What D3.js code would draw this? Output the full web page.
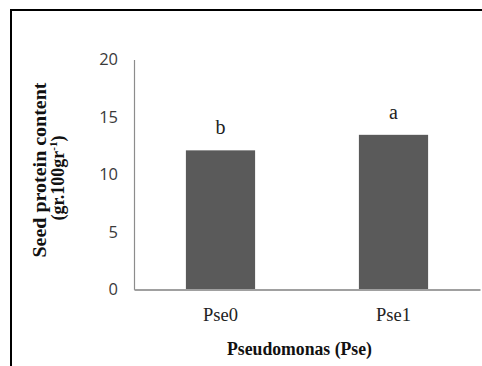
<!DOCTYPE html>
<html>
<head>
<meta charset="utf-8">
<script src="https://cdn.jsdelivr.net/npm/d3@7"></script>
<style>
  html, body { margin: 0; padding: 0; background: #fff; }
  svg { display: block; }
</style>
</head>
<body>
<script>
// Seed protein content by Pseudomonas treatment
const categories = ["Pse0", "Pse1"];
const proteinValues = [12.1, 13.45];
const letters = ["b", "a"];
const yTicks = [0, 5, 10, 15, 20];

const W = 482, H = 366;
const svg = d3.select("body").append("svg").attr("width", W).attr("height", H);

// outer frame (only top and left edges fall inside the view)
svg.append("rect")
  .attr("x", 11).attr("y", 10)
  .attr("width", 600).attr("height", 500)
  .attr("fill", "none").attr("stroke", "#000").attr("stroke-width", 2);

const x = d3.scaleBand().domain(categories).range([134, 480])
  .paddingInner(0.6).paddingOuter(0.3);
const y = d3.scaleLinear().domain([0, 20]).range([289.5, 59.5]);

const serif = "'Liberation Serif', 'Times New Roman', serif";

// y axis
const yAxis = svg.append("g").attr("transform", "translate(134,0)")
  .call(d3.axisLeft(y).tickValues(yTicks).tickSize(0).tickPadding(16).tickFormat(d3.format("d")));
yAxis.select(".domain").attr("stroke", "#8c8c8c").attr("stroke-width", 1.2);
yAxis.selectAll("text")
  .attr("font-family", "'Open Sans', 'Liberation Sans', sans-serif")
  .attr("font-size", 16.5).attr("fill", "#3a3a3a");

// bars
svg.append("g").selectAll("rect")
  .data(categories)
  .join("rect")
  .attr("x", d => x(d))
  .attr("width", x.bandwidth())
  .attr("y", (d, i) => y(proteinValues[i]))
  .attr("height", (d, i) => y(0) - y(proteinValues[i]))
  .attr("fill", "#5a5a5a");

// x axis baseline and category labels
const xAxis = svg.append("g").attr("transform", `translate(0,${y(0)})`)
  .call(d3.axisBottom(x).tickSize(0).tickPadding(18));
xAxis.select(".domain").attr("stroke", "#a0a0a0").attr("stroke-width", 2);
xAxis.selectAll("text")
  .attr("font-family", serif)
  .attr("font-size", 18.5).attr("fill", "#222");

// significance letters
svg.append("g").selectAll("text")
  .data(categories)
  .join("text")
  .attr("x", d => x(d) + x.bandwidth() / 2)
  .attr("y", (d, i) => y(proteinValues[i]) - 16)
  .attr("text-anchor", "middle")
  .attr("font-family", serif)
  .attr("font-size", 20).attr("fill", "#222")
  .text((d, i) => letters[i]);

// x axis title
svg.append("text")
  .attr("x", 299.5).attr("y", 355)
  .attr("text-anchor", "middle")
  .attr("font-family", serif)
  .attr("font-weight", "bold").attr("font-size", 18).attr("fill", "#111")
  .attr("textLength", 145).attr("lengthAdjust", "spacingAndGlyphs")
  .text("Pseudomonas (Pse)");

// y axis title (two lines)
svg.append("text")
  .attr("transform", "translate(46,170) rotate(-90)")
  .attr("text-anchor", "middle")
  .attr("font-family", serif)
  .attr("font-weight", "bold").attr("font-size", 18).attr("fill", "#111")
  .attr("textLength", 175).attr("lengthAdjust", "spacingAndGlyphs")
  .text("Seed protein content");

const t2 = svg.append("text")
  .attr("transform", "translate(64,178) rotate(-90)")
  .attr("text-anchor", "middle")
  .attr("font-family", serif)
  .attr("font-weight", "bold").attr("font-size", 18).attr("fill", "#111");
t2.append("tspan").text("(gr.100gr");
t2.append("tspan").attr("font-size", 11).attr("dy", -7).text("-1");
t2.append("tspan").attr("dy", 7).text(")");
</script>
</body>
</html>
